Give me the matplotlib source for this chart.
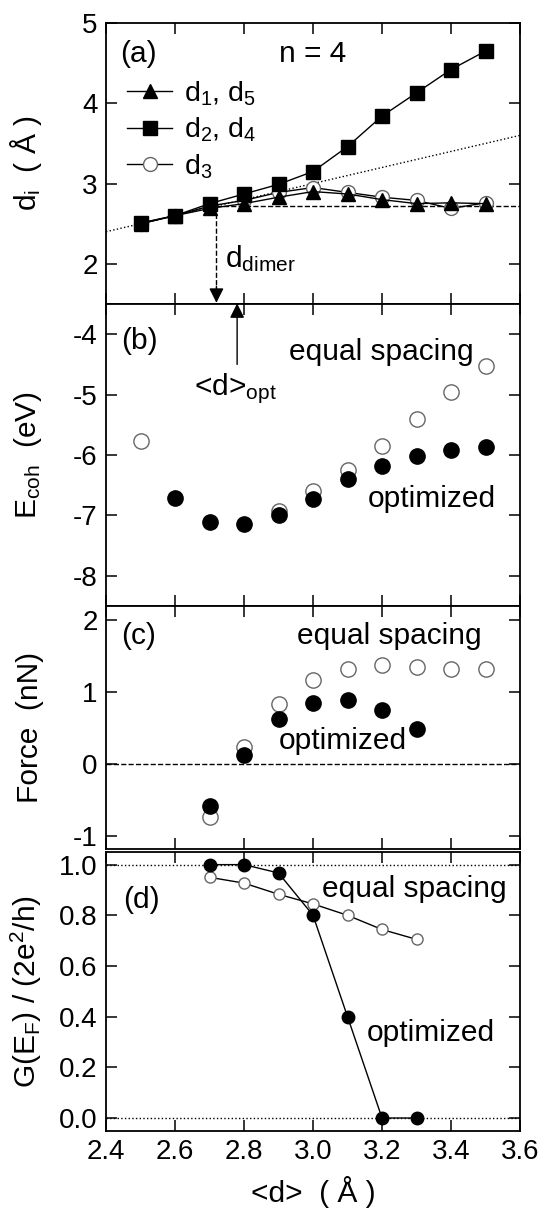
import numpy as np
import matplotlib
matplotlib.use("Agg")
import matplotlib.pyplot as plt

plt.rcParams['font.family'] = ['Liberation Sans', 'DejaVu Sans']
plt.rcParams['mathtext.default'] = 'regular'
plt.rcParams['axes.unicode_minus'] = False

# ---- data ----
d_a = [2.5, 2.6, 2.7, 2.8, 2.9, 3.0, 3.1, 3.2, 3.3, 3.4, 3.5]
d15 = [2.50, 2.60, 2.69, 2.75, 2.83, 2.90, 2.87, 2.80, 2.75, 2.76, 2.75]
d24 = [2.51, 2.60, 2.75, 2.87, 2.99, 3.15, 3.46, 3.84, 4.13, 4.42, 4.65]
d3 = [2.50, 2.60, 2.72, 2.79, 2.89, 2.95, 2.89, 2.83, 2.79, 2.69, 2.76]
d_dimer = 2.72
d_opt = 2.78

d_b_eq = [2.5, 2.9, 3.0, 3.1, 3.2, 3.3, 3.4, 3.5]
ecoh_eq = [-5.77, -6.92, -6.60, -6.25, -5.85, -5.41, -4.95, -4.53]
d_b_opt = [2.6, 2.7, 2.8, 2.9, 3.0, 3.1, 3.2, 3.3, 3.4, 3.5]
ecoh_opt = [-6.71, -7.11, -7.14, -7.00, -6.72, -6.40, -6.18, -6.02, -5.92, -5.87]

d_c_eq = [2.7, 2.8, 2.9, 3.0, 3.1, 3.2, 3.3, 3.4, 3.5]
force_eq = [-0.73, 0.24, 0.83, 1.16, 1.32, 1.37, 1.35, 1.32, 1.31]
d_c_opt = [2.7, 2.8, 2.9, 3.0, 3.1, 3.2, 3.3]
force_opt = [-0.58, 0.13, 0.62, 0.85, 0.89, 0.75, 0.48]

d_d = [2.7, 2.8, 2.9, 3.0, 3.1, 3.2, 3.3]
g_opt = [1.00, 1.00, 0.967, 0.80, 0.40, 0.0, 0.0]
g_eq = [0.95, 0.927, 0.883, 0.845, 0.80, 0.744, 0.705]

FS = 21.5     # annotations / axis labels
TFS = 20      # tick labels
grey = '#666666'

fig = plt.figure(figsize=(5.44, 12.15), dpi=100)
L, W = 0.1949, 0.761
ax_a = fig.add_axes([L, 0.7498, W, 0.2313])
ax_b = fig.add_axes([L, 0.5012, W, 0.2486])
ax_c = fig.add_axes([L, 0.3012, W, 0.2000])
ax_d = fig.add_axes([L, 0.0694, W, 0.2294])

for ax in (ax_a, ax_b, ax_c, ax_d):
    ax.set_xlim(2.4, 3.6)
    ax.set_xticks([2.4, 2.6, 2.8, 3.0, 3.2, 3.4, 3.6])
    ax.tick_params(direction='in', top=True, right=True, length=8, width=1.1,
                   labelsize=TFS, pad=6)
    for s in ax.spines.values():
        s.set_linewidth(1.3)
    ax.yaxis.set_label_coords(-0.15, 0.5)
for ax in (ax_a, ax_b, ax_c):
    ax.tick_params(labelbottom=False)

# ---- (a) ----
ax_a.plot([2.4, 3.6], [2.4, 3.6], ls=':', color='k', lw=1)
ax_a.plot([d_dimer, 3.6], [d_dimer, d_dimer], ls='--', color='k', lw=1)
ax_a.plot(d_a, d15, '-^', color='k', ms=10, lw=1, label='d$_1$, d$_5$', zorder=4)
ax_a.plot(d_a, d24, '-s', color='k', ms=10.5, lw=1, label='d$_2$, d$_4$', zorder=3)
ax_a.plot(d_a, d3, '-o', color='k', mfc='white', mec=grey, ms=10, lw=1,
          label='d$_3$', zorder=2)
ax_a.set_ylim(1.5, 5)
ax_a.set_yticks([2, 3, 4, 5])
ax_a.set_ylabel('d$_i$  ( Å )', fontsize=FS)
ax_a.plot([d_dimer, d_dimer], [d_dimer, 1.7], ls='--', color='k', lw=1)
ax_a.annotate('', xy=(d_dimer, 1.515), xytext=(d_dimer, 1.72),
              annotation_clip=False,
              arrowprops=dict(arrowstyle='-|>', color='k', lw=1, mutation_scale=22,
                              shrinkA=0, shrinkB=0))
ax_a.text(2.745, 2.07, 'd$_{dimer}$', fontsize=FS, va='center')
ax_a.text(2.442, 4.61, '(a)', fontsize=FS, va='center')
ax_a.text(3.0, 4.61, 'n = 4', fontsize=FS, va='center', ha='center')
ax_a.legend(loc='upper left', bbox_to_anchor=(0.05, 0.80), frameon=False,
            fontsize=20.5, handlelength=1.6, handletextpad=0.4,
            labelspacing=0.28, borderaxespad=0, borderpad=0)

# ---- (b) ----
ax_b.plot(d_b_opt, ecoh_opt, 'o', color='k', ms=11, zorder=3)
ax_b.plot(d_b_eq, ecoh_eq, 'o', mfc='white', mec=grey, ms=11, zorder=2)
ax_b.set_ylim(-8.5, -3.5)
ax_b.set_yticks([-8, -7, -6, -5, -4])
ax_b.set_ylabel('E$_{coh}$  (eV)', fontsize=FS)
ax_b.annotate('', xy=(d_opt, -3.49), xytext=(d_opt, -4.5),
              annotation_clip=False,
              arrowprops=dict(arrowstyle='-|>', color='k', lw=1, mutation_scale=22,
                              shrinkA=0, shrinkB=0))
ax_b.text(2.655, -4.9, '<d>$_{opt}$', fontsize=FS, va='center')
ax_b.text(2.445, -4.12, '(b)', fontsize=FS, va='center')
ax_b.text(2.93, -4.3, 'equal spacing', fontsize=FS, va='center')
ax_b.text(3.16, -6.72, 'optimized', fontsize=FS, va='center')

# ---- (c) ----
ax_c.axhline(0, ls='--', color='k', lw=1)
ax_c.plot(d_c_opt, force_opt, 'o', color='k', ms=11, zorder=3)
ax_c.plot(d_c_eq, force_eq, 'o', mfc='white', mec=grey, ms=11, zorder=2)
ax_c.set_ylim(-1.18, 2.19)
ax_c.set_yticks([-1, 0, 1, 2])
ax_c.set_ylabel('Force  (nN)', fontsize=FS)
ax_c.text(2.445, 1.77, '(c)', fontsize=FS, va='center')
ax_c.text(2.955, 1.77, 'equal spacing', fontsize=FS, va='center')
ax_c.text(2.9, 0.32, 'optimized', fontsize=FS, va='center')

# ---- (d) ----
ax_d.axhline(1.0, ls=':', color='k', lw=1)
ax_d.axhline(0.0, ls=':', color='k', lw=1)
ax_d.plot(d_d, g_opt, '-o', color='k', ms=9, lw=1, zorder=3)
ax_d.plot(d_d, g_eq, '-o', color='k', mfc='white', mec=grey, ms=8, lw=1, zorder=2)
ax_d.set_ylim(-0.05, 1.05)
ax_d.set_yticks([0.0, 0.2, 0.4, 0.6, 0.8, 1.0])
ax_d.set_yticklabels(['%.1f' % v for v in [0.0, 0.2, 0.4, 0.6, 0.8, 1.0]])
ax_d.set_xticklabels(['%.1f' % v for v in [2.4, 2.6, 2.8, 3.0, 3.2, 3.4, 3.6]])
ax_d.set_ylabel('G(E$_F$) / (2e$^2$/h)', fontsize=FS)
ax_d.set_xlabel('<d>  ( Å )', fontsize=FS, labelpad=8)
ax_d.text(2.45, 0.86, '(d)', fontsize=FS, va='center')
ax_d.text(3.025, 0.903, 'equal spacing', fontsize=FS, va='center')
ax_d.text(3.157, 0.334, 'optimized', fontsize=FS, va='center')

fig.savefig('out.png', dpi=100)
